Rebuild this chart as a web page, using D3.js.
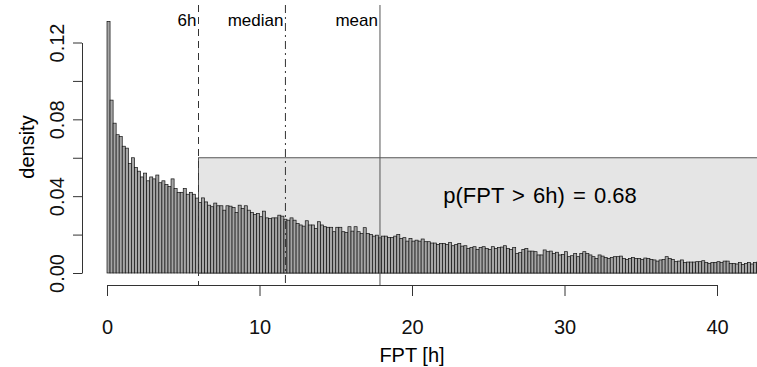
<!DOCTYPE html>
<html>
<head>
<meta charset="utf-8">
<script src="https://cdn.jsdelivr.net/npm/d3@7"></script>
<style>
  body { margin: 0; background: #fff; }
  svg { display: block; font-family: "Liberation Sans", Arial, Helvetica, sans-serif; }
</style>
</head>
<body>
<svg width="757" height="367"></svg>
<script>
// histogram of first passage times, bins of 0.2 h starting at 0
const binWidth = 0.2;
const density = [
  0.131, 0.090, 0.078, 0.072, 0.071, 0.066, 0.065, 0.057, 0.060, 0.055,
  0.053, 0.050, 0.052, 0.048, 0.050, 0.049, 0.051, 0.047, 0.048, 0.046,
  0.045, 0.049, 0.044, 0.042, 0.042, 0.044, 0.041, 0.042, 0.041, 0.039,
  0.0367, 0.0391, 0.0370, 0.0353, 0.0345, 0.0364, 0.0350, 0.0350, 0.0327, 0.0350,
  0.0348, 0.0341, 0.0315, 0.0353, 0.0336, 0.0350, 0.0327, 0.0315, 0.0305, 0.0310,
  0.0293, 0.0322, 0.0287, 0.0284, 0.0287, 0.0287, 0.0301, 0.0296, 0.0280, 0.0275,
  0.0287, 0.0275, 0.0258, 0.0250, 0.0244, 0.0272, 0.0250, 0.0250, 0.0232, 0.0267,
  0.0250, 0.0241, 0.0238, 0.0238, 0.0215, 0.0238, 0.0238, 0.0215, 0.0211, 0.0241,
  0.0218, 0.0241, 0.0215, 0.0206, 0.0236, 0.0206, 0.0201, 0.0192, 0.0197, 0.0183,
  0.0192, 0.0192, 0.0185, 0.0185, 0.0192, 0.0201,
  0.0180, 0.0184, 0.0166, 0.0180, 0.0166, 0.0171, 0.0166, 0.0177, 0.0163, 0.0163,
  0.0156, 0.0156, 0.0149, 0.0154, 0.0154, 0.0149, 0.0158, 0.0142, 0.0149, 0.0154,
  0.0140, 0.0142, 0.0128, 0.0132, 0.0137, 0.0123, 0.0133, 0.0137, 0.0128, 0.0123,
  0.0137, 0.0128, 0.0132, 0.0135, 0.0142, 0.0128, 0.0123, 0.0133, 0.0102, 0.0106,
  0.0123, 0.0128, 0.0114, 0.0114, 0.0111, 0.0094, 0.0094, 0.0120, 0.0111, 0.0114,
  0.0102, 0.0108, 0.0094, 0.0097, 0.0111, 0.0085, 0.0090, 0.0102, 0.0085, 0.0102,
  0.0111, 0.0102, 0.0094, 0.0085, 0.0076, 0.0094,
  0.0088, 0.0081, 0.0076, 0.0081, 0.0085, 0.0085, 0.0088, 0.0076, 0.0071, 0.0076,
  0.0081, 0.0076, 0.0076, 0.0071, 0.0078, 0.0076, 0.0071, 0.0068, 0.0062, 0.0068,
  0.0071, 0.0085, 0.0076, 0.0071, 0.0059, 0.0062, 0.0068, 0.0055, 0.0057, 0.0057,
  0.0057, 0.0059, 0.0059, 0.0064, 0.0054, 0.0050, 0.0054, 0.0055, 0.0059, 0.0054,
  0.0062, 0.0062, 0.0050, 0.0050, 0.0047, 0.0054, 0.0045, 0.0050, 0.0055, 0.0047,
  0.0054, 0.0057
];

const xTicks = [0, 10, 20, 30, 40];
const yTicks = [0, 0.02, 0.04, 0.06, 0.08, 0.10, 0.12];
const yLabelled = [0, 0.04, 0.08, 0.12];

// reference lines
const markerNames = ["6h", "median", "mean"];
const markerValues = [6, 11.7, 17.9];
const markerDash = ["7,5", "8,4,2,4", null];

const threshold = 6;      // FPT > 6h region
const regionHeight = 0.06;
const probText = "p(FPT > 6h) = 0.68";

const svg = d3.select("svg");
const width = +svg.attr("width");

const x = d3.scaleLinear().domain([0, 40]).range([107, 717]);
const y = d3.scaleLinear().domain([0, 0.12]).range([273, 42.5]);
const axisY = 285;
const axisX = 82;
const plotTop = 5;

// shaded region behind the bars
svg.append("rect")
  .attr("x", x(threshold))
  .attr("y", y(regionHeight))
  .attr("width", width + 10 - x(threshold))
  .attr("height", y(0) - y(regionHeight))
  .attr("fill", "#e5e5e5")
  .attr("stroke", "#555")
  .attr("stroke-width", 1);

// bars
svg.append("g")
  .selectAll("rect")
  .data(density)
  .join("rect")
  .attr("x", (d, i) => x(i * binWidth))
  .attr("y", d => y(d))
  .attr("width", x(binWidth) - x(0))
  .attr("height", d => y(0) - y(d))
  .attr("fill", "#a6a6a6")
  .attr("stroke", "#111")
  .attr("stroke-width", 0.7);

// vertical marker lines
markerValues.forEach((v, i) => {
  svg.append("line")
    .attr("x1", x(v)).attr("x2", x(v))
    .attr("y1", plotTop).attr("y2", axisY)
    .attr("stroke", i === 2 ? "#555" : "#333")
    .attr("stroke-width", 1)
    .attr("stroke-dasharray", markerDash[i]);
  svg.append("text")
    .attr("x", x(v) - 2)
    .attr("y", 26)
    .attr("text-anchor", "end")
    .attr("font-size", 17)
    .text(markerNames[i]);
});

svg.append("text")
  .attr("x", 540)
  .attr("y", 203)
  .attr("text-anchor", "middle")
  .attr("font-size", 22)
  .attr("word-spacing", 2)
  .text(probText);

// x axis
const gx = svg.append("g")
  .attr("transform", `translate(0,${axisY})`)
  .call(d3.axisBottom(x).tickValues(xTicks).tickSize(11).tickSizeOuter(0).tickFormat(d3.format("d")));
gx.selectAll("line, path").attr("stroke", "#333");
gx.selectAll("text")
  .attr("y", 49).attr("dy", 0)
  .attr("font-size", 20)
  .attr("fill", "#111");

svg.append("text")
  .attr("x", 412)
  .attr("y", 362)
  .attr("text-anchor", "middle")
  .attr("font-size", 20)
  .text("FPT [h]");

// y axis
const gy = svg.append("g")
  .attr("transform", `translate(${axisX},0)`)
  .call(d3.axisLeft(y).tickValues(yTicks).tickSize(9).tickSizeOuter(0)
    .tickFormat(d => yLabelled.some(t => Math.abs(t - d) < 1e-9) ? d3.format(".2f")(d) : ""));
gy.selectAll("line, path").attr("stroke", "#333");
gy.selectAll("text")
  .attr("transform", "rotate(-90)")
  .attr("x", 0).attr("y", -18).attr("dy", 0)
  .attr("text-anchor", "middle")
  .attr("font-size", 20)
  .attr("fill", "#111");

svg.append("text")
  .attr("transform", "translate(34,147) rotate(-90)")
  .attr("text-anchor", "middle")
  .attr("font-size", 20)
  .text("density");
</script>
</body>
</html>
